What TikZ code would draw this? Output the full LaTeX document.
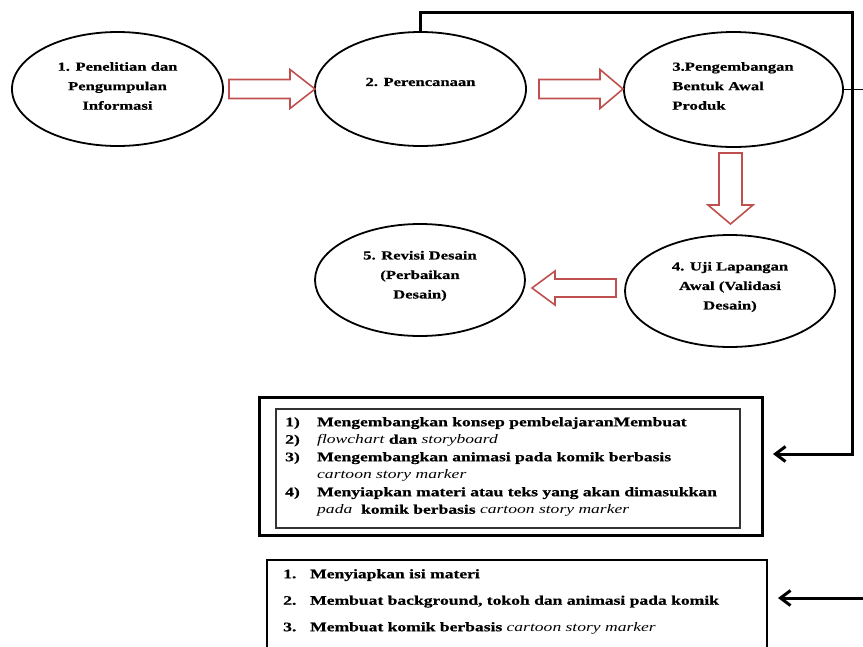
\documentclass[tikz,border=0pt]{standalone}
\usepackage{fontspec}
\setmainfont{Liberation Serif}[FakeStretch=1.35, BoldFeatures={FakeBold=0.6}]
\usetikzlibrary{shapes.geometric,arrows.meta,calc}
\definecolor{arrowred}{RGB}{192,80,77}
\newcommand\myit[1]{{\normalfont\itshape #1}}
\begin{document}
\begin{tikzpicture}[x=1pt,y=-1pt,
  stage/.style={draw=black, line width=1.8pt, ellipse, inner sep=0pt},
  etext/.style={font={\fontsize{12.3}{19.5}\selectfont\bfseries}, inner sep=0pt, align=center},
  blockarrow/.style={draw=arrowred, fill=white, line width=1.6pt, line join=miter},
  conn/.style={line width=3pt},
  thinconn/.style={line width=1.5pt},
  tipbarb/.style={-{Straight Barb[length=10pt,width=15pt]}},
  listtext/.style={font={\fontsize{13}{17.5}\selectfont\bfseries}, inner sep=0pt, align=left, anchor=north west},
  listtextb/.style={font={\fontsize{13}{26.5}\selectfont\bfseries}, inner sep=0pt, align=left, anchor=north west}
]
\useasboundingbox (0,0) rectangle (863,646);
\clip (0,0) rectangle (863,646);

% ellipses
\node[stage, minimum width=211, minimum height=114] (e1) at (117.5,89) {};
\node[stage, minimum width=211, minimum height=114] (e2) at (420.5,89) {};
\node[stage, minimum width=219, minimum height=115] (e3) at (733.5,89.5) {};
\node[stage, minimum width=210, minimum height=112] (e4) at (730,291) {};
\node[stage, minimum width=210, minimum height=112] (e5) at (420,280) {};

\node[etext] (t1) at (117.5,86) {1. Penelitian dan\\Pengumpulan\\Informasi};
\node[etext] (t2) at (420.5,82) {2. Perencanaan};
\node[etext, align=left] (t3) at (733,86) {3.Pengembangan\\Bentuk Awal\\Produk};
\node[etext] (t4) at (730,287) {4. Uji Lapangan\\Awal (Validasi\\Desain)};
\node[etext] (t5) at (420,276) {5. Revisi Desain\\(Perbaikan\\Desain)};

% block arrows
\draw[blockarrow] (229,79.5) -- (290,79.5) -- (290,69.5) -- (315,89) -- (290,108.5) -- (290,98.5) -- (229,98.5) -- cycle;
\draw[blockarrow] (539,79.5) -- (600,79.5) -- (600,69.5) -- (623,89) -- (600,108.5) -- (600,98.5) -- (539,98.5) -- cycle;
\draw[blockarrow] (719,153) -- (742,153) -- (742,205) -- (753,205) -- (730.5,224) -- (708,205) -- (719,205) -- cycle;
\draw[blockarrow] (616,279) -- (555,279) -- (555,271) -- (532,288) -- (555,305) -- (555,297) -- (616,297) -- cycle;

% boxes
\node[draw, line width=3pt, minimum width=503, minimum height=138, inner sep=0pt] (box1) at (510.5,466) {};
\node[draw=black!80, line width=1.4pt, minimum width=464, minimum height=119, inner sep=0pt] (box1in) at (508,468.5) {};
\node[draw, line width=2.5pt, minimum width=500, minimum height=140, inner sep=0pt] (box2) at (517,630) {};

\node[listtext] (list1) at (285,417) {%
\makebox[32pt][l]{1)}Mengembangkan konsep pembelajaranMembuat\\
\makebox[32pt][l]{2)}\myit{flowchart} dan \myit{storyboard}\\
\makebox[32pt][l]{3)}Mengembangkan animasi pada komik berbasis\\
\hspace*{32pt}\myit{cartoon story marker}\\
\makebox[32pt][l]{4)}Menyiapkan materi atau teks yang akan dimasukkan\\
\hspace*{32pt}\myit{pada}\ \ komik berbasis \myit{cartoon story marker}};

\node[listtextb] (list2) at (283,569) {%
\makebox[27pt][l]{1.}Menyiapkan isi materi\\
\makebox[27pt][l]{2.}Membuat background, tokoh dan animasi pada komik\\
\makebox[27pt][l]{3.}Membuat komik berbasis \myit{cartoon story marker}};

% connectors
\coordinate (c1) at (852,12);
\coordinate (a1tip) at (773,454);
\coordinate (edge1) at (863,89.5);
\coordinate (edge2) at (863,598);
\coordinate (a2tip) at (778,598);
\draw[conn, tipbarb, line join=miter] (e2.north) |- (c1) |- (a1tip);
\draw[thinconn] (e3.east) -- (edge1);
\draw[conn, tipbarb] (edge2) -- (a2tip);
\end{tikzpicture}
\end{document}
